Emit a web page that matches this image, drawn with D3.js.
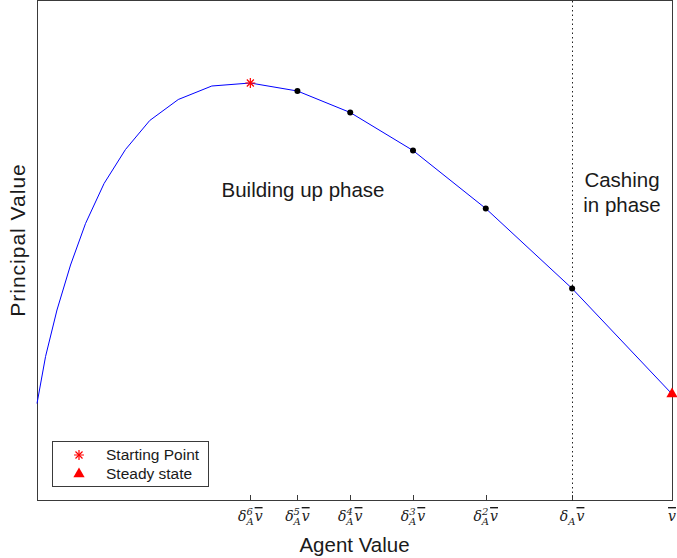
<!DOCTYPE html>
<meta charset="utf-8">
<style>
    body { margin: 0; background: #fff; }
    .lbl { font: 20.5px "Liberation Sans", Arial, sans-serif; fill: #1a1a1a; }
    .ylbl { font: 21px "Liberation Sans", Arial, sans-serif; fill: #1a1a1a; letter-spacing: 1px; }
    .leg { font: 15.5px "Liberation Sans", Arial, sans-serif; fill: #1a1a1a; }
    .tick-lbl { font: italic 14px "DejaVu Serif", "Liberation Serif", serif; fill: #1a1a1a; }
</style>
<svg width="677" height="558"></svg>
<script src="https://d3js.org/d3.v7.min.js"></script>
<script>

    // agent value (v-bar = 1) and principal value along the curve
    var agentVals = [0.11, 0.122, 0.138, 0.157, 0.178, 0.204, 0.234, 0.268, 0.308, 0.355,
                     0.409, 0.475, 0.549, 0.637, 0.739, 0.860, 1.0];
    var principalVals = [1.95, 2.89, 3.82, 4.72, 5.55, 6.35, 7.03, 7.61, 8.03, 8.30,
                         8.36, 8.20, 7.77, 7.01, 5.85, 4.25, 2.14];

    // tick positions, exponents of delta_A (0 = v-bar alone)
    var tickVals = [0.409, 0.475, 0.549, 0.637, 0.739, 0.860, 1.0];
    var tickPows = [6, 5, 4, 3, 2, 1, 0];

    var startIdx = 10, steadyIdx = 16;
    var dotIdx = [11, 12, 13, 14, 15];

    var svg = d3.select("svg"),
        mL = 37, mR = 672, mT = 1, mB = 501;

    var x = d3.scaleLinear().domain([0.11, 1]).range([mL, mR]);
    var y = d3.scaleLinear().domain([0, 10]).range([mB, mT]);

    var pts = agentVals.map(function(v, i) { return [v, principalVals[i]]; });

    // box
    svg.append("rect")
        .attr("x", mL + 0.5).attr("y", mT - 0.5)
        .attr("width", mR - mL).attr("height", mB - mT)
        .attr("fill", "none").attr("stroke", "#3a3a3a").attr("stroke-width", 1);

    // ticks on bottom (inward)
    tickVals.forEach(function(v) {
        var px = Math.round(x(v)) + 0.5;
        svg.append("line").attr("x1", px).attr("x2", px)
            .attr("y1", mB).attr("y2", mB - 6)
            .attr("stroke", "#3a3a3a");
    });

    // dotted divider at delta_A v-bar
    var dx0 = Math.round(x(tickVals[5])) + 0.5;
    svg.append("line")
        .attr("x1", dx0).attr("x2", dx0)
        .attr("y1", mT).attr("y2", mB)
        .attr("stroke", "#222").attr("stroke-dasharray", "1.5,3");

    // curve
    svg.append("path")
        .datum(pts)
        .attr("fill", "none")
        .attr("stroke", "#0000ff")
        .attr("stroke-width", 1)
        .attr("d", d3.line().x(function(d) { return x(d[0]); }).y(function(d) { return y(d[1]); }));

    svg.selectAll(".dot")
        .data(dotIdx.map(function(i) { return pts[i]; }))
        .enter().append("circle")
        .attr("class", "dot")
        .attr("cx", function(d) { return x(d[0]); })
        .attr("cy", function(d) { return y(d[1]); })
        .attr("r", 3)
        .attr("fill", "#000");

    function star(g, cx, cy) {
        [d3.symbolPlus, d3.symbolTimes].forEach(function(s) {
            g.append("path")
                .attr("transform", "translate(" + cx + "," + cy + ")")
                .attr("d", d3.symbol(s, 34)())
                .attr("fill", "none").attr("stroke", "#ff0000").attr("stroke-width", 1.2);
        });
    }
    function tri(g, cx, cy) {
        g.append("path")
            .attr("transform", "translate(" + cx + "," + cy + ")")
            .attr("d", d3.symbol(d3.symbolTriangle, 55)())
            .attr("fill", "#ff0000");
    }

    star(svg, x(pts[startIdx][0]), y(pts[startIdx][1]));
    tri(svg, x(pts[steadyIdx][0]), y(pts[steadyIdx][1]));

    // tick labels
    tickVals.forEach(function(v, i) {
        var t = svg.append("text").attr("class", "tick-lbl")
            .attr("x", x(v)).attr("y", 521).attr("text-anchor", "middle");
        var p = tickPows[i];
        if (p > 0) {
            t.append("tspan").text("\u03b4");
            if (p > 1) {
                t.append("tspan").attr("font-size", 10).attr("dy", -6).text(p);
                t.append("tspan").attr("font-size", 10).attr("dx", -6.5).attr("dy", 10).text("A");
            } else {
                t.append("tspan").attr("font-size", 10).attr("dy", 4).text("A");
            }
            t.append("tspan").attr("dy", -4).attr("dx", 1)
                .style("text-decoration", "overline").text("v");
        } else {
            t.append("tspan").style("text-decoration", "overline").text("v");
        }
    });

    // axis titles
    svg.append("text").attr("class", "lbl")
        .attr("x", (mL + mR) / 2).attr("y", 552).attr("text-anchor", "middle")
        .text("Agent Value");
    svg.append("text").attr("class", "ylbl")
        .attr("transform", "translate(25,240) rotate(-90)")
        .attr("text-anchor", "middle")
        .text("Principal Value");

    // phase annotations
    svg.append("text").attr("class", "lbl")
        .attr("x", 303).attr("y", 197).attr("text-anchor", "middle")
        .text("Building up phase");
    svg.append("text").attr("class", "lbl")
        .attr("x", 622).attr("y", 187).attr("text-anchor", "middle")
        .text("Cashing");
    svg.append("text").attr("class", "lbl")
        .attr("x", 622).attr("y", 212).attr("text-anchor", "middle")
        .text("in phase");

    // legend
    var leg = svg.append("g");
    leg.append("rect")
        .attr("x", 52.5).attr("y", 441.5).attr("width", 156).attr("height", 45)
        .attr("fill", "#fff").attr("stroke", "#3a3a3a");
    star(leg, 79, 455);
    tri(leg, 79, 474);
    leg.append("text").attr("class", "leg").attr("x", 106).attr("y", 460).text("Starting Point");
    leg.append("text").attr("class", "leg").attr("x", 106).attr("y", 479).text("Steady state");

</script>
